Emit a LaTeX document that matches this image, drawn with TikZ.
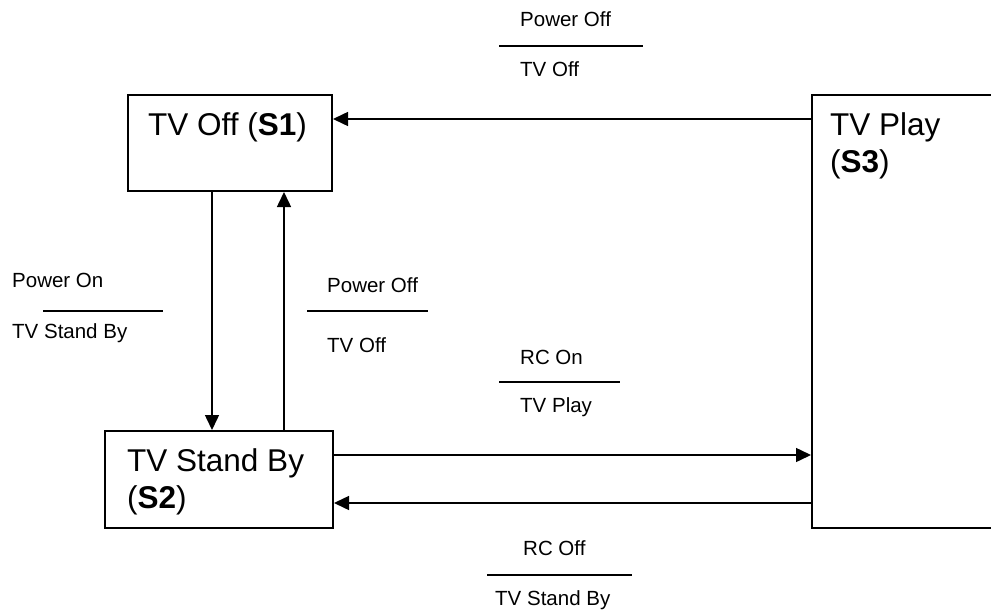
\documentclass[tikz,border=0pt]{standalone}
\usepackage{fontspec}
\setmainfont{Liberation Sans}
\usetikzlibrary{arrows.meta}
\begin{document}
\begin{tikzpicture}[x=1pt,y=-1pt,
  statebox/.style={draw,line width=2pt,inner sep=0pt,anchor=north west},
  boxtext/.style={anchor=base west,inner sep=0pt,font=\fontsize{31.5}{37}\selectfont},
  lbl/.style={anchor=base west,inner sep=0pt,font=\fontsize{20.5}{24}\selectfont},
  sepline/.style={line width=2pt},
  arr/.style={line width=1.5pt,-{Triangle[length=15pt,width=14pt]}}]
\useasboundingbox (0,0) rectangle (991,610);

% states
\node[statebox,minimum width=204pt,minimum height=96pt] (S1) at (127,94) {};
\node[statebox,minimum width=228pt,minimum height=97pt] (S2) at (104,430) {};
\node[statebox,minimum width=189pt,minimum height=433pt] (S3) at (811,94) {};

\node[boxtext] (s1t) at (148,135) {TV Off (\textbf{S1})};
\node[boxtext] (s2ta) at (127,471) {TV Stand By};
\node[boxtext] (s2tb) at (127,508) {(\textbf{S2})};
\node[boxtext] (s3ta) at (830,135) {TV Play};
\node[boxtext] (s3tb) at (830,172) {(\textbf{S3})};

% helper coordinates
\coordinate (ya) at (0,119);
\coordinate (yb) at (0,455);
\coordinate (yc) at (0,503);
\coordinate (xa) at (212,0);
\coordinate (xb) at (284,0);

% transitions
\draw[arr] (S3.west |- ya) -- (S1.east |- ya);
\draw[arr] (S1.south -| xa) -- (S2.north -| xa);
\draw[arr] (S2.north -| xb) -- (S1.south -| xb);
\draw[arr] (S2.east |- yb) -- (S3.west |- yb);
\draw[arr] (S3.west |- yc) -- (S2.east |- yc);

% labels: top (S3 -> S1)
\node[lbl] (l1a) at (520,27) {Power Off};
\draw[sepline] (499,46) -- (643,46);
\node[lbl] (l1b) at (520,77) {TV Off};

% labels: S1 -> S2
\node[lbl] (l2a) at (12,287) {Power On};
\draw[sepline] (43,311) -- (163,311);
\node[lbl] (l2b) at (12,338) {TV Stand By};

% labels: S2 -> S1
\node[lbl] (l3a) at (327,292) {Power Off};
\draw[sepline] (307,311) -- (428,311);
\node[lbl] (l3b) at (327,352) {TV Off};

% labels: S2 -> S3
\node[lbl] (l4a) at (520,364) {RC On};
\draw[sepline] (499,382) -- (620,382);
\node[lbl] (l4b) at (520,412) {TV Play};

% labels: S3 -> S2
\node[lbl] (l5a) at (523,555) {RC Off};
\draw[sepline] (487,575) -- (632,575);
\node[lbl] (l5b) at (495,605) {TV Stand By};
\end{tikzpicture}
\end{document}
